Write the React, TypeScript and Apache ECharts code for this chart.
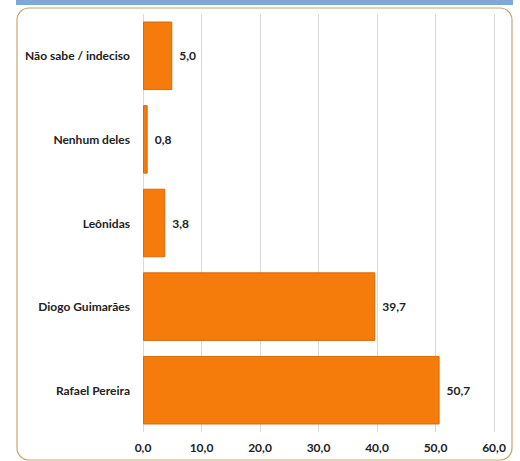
import React, { useEffect, useRef } from "react";
import * as echarts from "echarts";

const categories = ["Não sabe / indeciso", "Nenhum deles", "Leônidas", "Diogo Guimarães", "Rafael Pereira"];
const values = [5.0, 0.8, 3.8, 39.7, 50.7];
const xTicks = [0, 10, 20, 30, 40, 50, 60];

const fmt = (v: number) => v.toFixed(1).replace(".", ",");

export default function App() {
  const ref = useRef<HTMLDivElement>(null);
  useEffect(() => {
    if (!ref.current) return;
    const chart = echarts.init(ref.current, null, { renderer: "svg" });
    chart.setOption({
      animation: false,
      backgroundColor: "#ffffff",
      textStyle: { fontFamily: "Lato" },
      graphic: [
        {
          type: "rect",
          shape: { x: 16, y: 0, width: 497, height: 5 },
          style: { fill: "#7fa8d6" },
          silent: true,
        },
        {
          type: "rect",
          shape: { x: 17, y: 8, width: 495, height: 452, r: 12 },
          style: { fill: "none", stroke: "#c9a56f", lineWidth: 1.2 },
          silent: true,
        },
      ],
      grid: { left: 143, right: 26, top: 14, bottom: 29, containLabel: false },
      xAxis: {
        type: "value",
        min: xTicks[0],
        max: xTicks[xTicks.length - 1],
        interval: 10,
        axisLine: { show: false },
        axisTick: { show: false },
        splitLine: { show: true, lineStyle: { color: "#d9d9d9", width: 1 } },
        axisLabel: {
          formatter: (v: number) => fmt(v),
          color: "#222",
          fontWeight: "bold",
          fontSize: 12,
          margin: 9,
        },
      },
      yAxis: {
        type: "category",
        data: categories,
        inverse: true,
        axisLine: { show: false },
        axisTick: { show: false },
        axisLabel: {
          color: "#222",
          fontWeight: "bold",
          fontSize: 12,
          margin: 13,
        },
      },
      series: [
        {
          type: "bar",
          data: values,
          barCategoryGap: "18%",
          itemStyle: { color: "#f57b0a", borderColor: "#d9690a", borderWidth: 1 },
          label: {
            show: true,
            position: "right",
            distance: 7,
            formatter: (p: any) => fmt(p.value),
            color: "#222",
            fontWeight: "bold",
            fontSize: 12,
          },
        },
      ],
    });
    return () => chart.dispose();
  }, []);
  return <div ref={ref} style={{ width: 520, height: 461, position: "absolute", left: 0, top: 0 }} />;
}
